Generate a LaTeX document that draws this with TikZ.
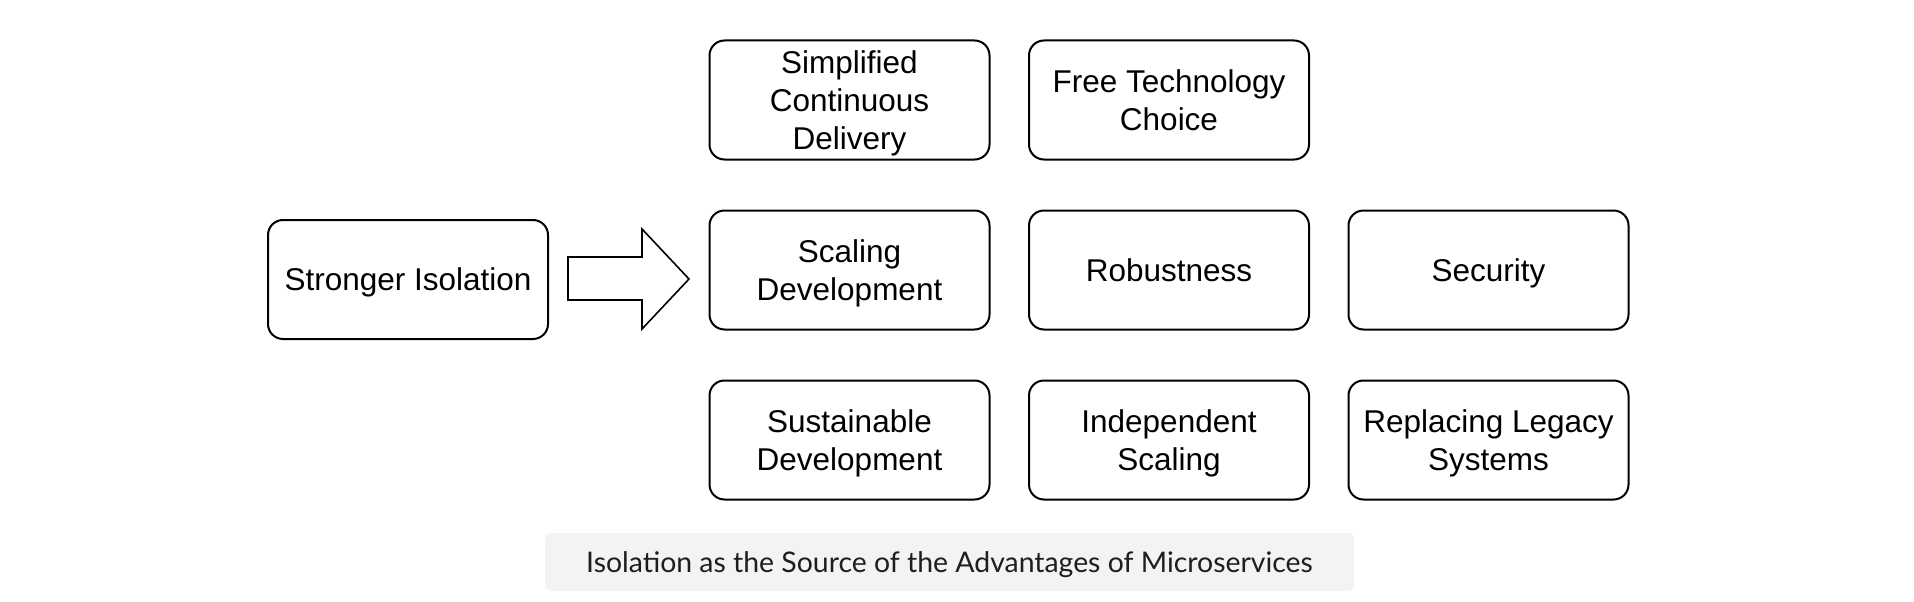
\documentclass[tikz,border=0pt]{standalone}
\usepackage{fontspec}
\setmainfont{Liberation Sans}
\newfontfamily\capfont{Lato}
\definecolor{capfill}{HTML}{F3F3F3}
\definecolor{captext}{HTML}{1E1E1E}
\newcommand\ls{\rule[-7.4pt]{0pt}{37.4pt}}
\newcommand\cs{\rule[-7pt]{0pt}{34.4pt}}
\tikzset{
  box/.style={draw=black, line width=2pt, rounded corners=15pt, fill=white,
    minimum width=280pt, minimum height=119pt, align=center, inner sep=0pt,
    font=\fontsize{31.5}{37.8}\selectfont},
  caption/.style={fill=capfill, rounded corners=6pt, minimum width=809pt,
    minimum height=58pt, inner sep=0pt, text=captext,
    font=\capfont\fontsize{28.4}{32}\selectfont},
  blockarrow/.style={draw=black, line width=1.6pt, fill=white, line join=miter}
}
\begin{document}
\begin{tikzpicture}[x=1pt, y=-1pt]
  \useasboundingbox (0,0) rectangle (1914,602);
  \node[box] (iso) at (408,279.5) {\ls Stronger Isolation};
  \node[box] (scd) at (849.5,100) {\ls Simplified\\\ls Continuous\\\ls Delivery};
  \node[box] (ftc) at (1169,100) {\ls Free Technology\\\ls Choice};
  \node[box] (sdv) at (849.5,270) {\ls Scaling\\\ls Development};
  \node[box] (rob) at (1169,270) {\ls Robustness};
  \node[box] (sec) at (1488.5,270) {\ls Security};
  \node[box] (sus) at (849.5,440) {\ls Sustainable\\\ls Development};
  \node[box] (ind) at (1169,440) {\ls Independent\\\ls Scaling};
  \node[box] (rep) at (1488.5,440) {\ls Replacing Legacy\\\ls Systems};
  \node[caption] (cap) at (949.5,562) {\cs Isolation as the Source of the Advantages of Microservices};
  \coordinate (a1) at (568,257);
  \coordinate (a2) at (642,257);
  \coordinate (a3) at (642,229);
  \coordinate (a4) at (689,279);
  \coordinate (a5) at (642,329);
  \coordinate (a6) at (642,300);
  \coordinate (a7) at (568,300);
  \draw[blockarrow] (a1) -- (a2) -- (a3) -- (a4) -- (a5) -- (a6) -- (a7) -- cycle;
\end{tikzpicture}
\end{document}
